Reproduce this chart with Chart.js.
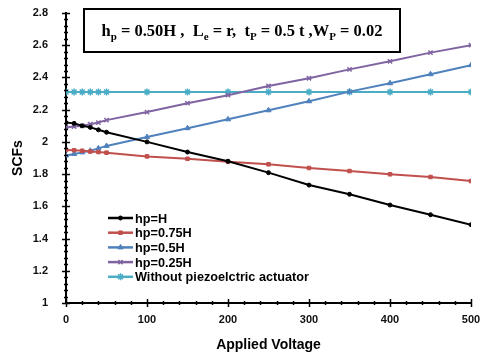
<!DOCTYPE html>
<html>
<head>
<meta charset="utf-8">
<script src="https://cdn.jsdelivr.net/npm/chart.js@4.4.1/dist/chart.umd.min.js"></script>
<style>
  html, body { margin: 0; padding: 0; background: #fff; }
  #wrap { width: 485px; height: 358px; position: relative; }
</style>
</head>
<body>
<div id="wrap"><canvas id="c"></canvas></div>
<script>
// applied voltage values (x)
const voltages = [0, 10, 20, 30, 40, 50, 100, 150, 200, 250, 300, 350, 400, 450, 500];

// SCF values
const scfFull    = [2.12, 2.115, 2.10, 2.09, 2.075, 2.06, 2.00, 1.937, 1.88, 1.809, 1.732, 1.675, 1.608, 1.548, 1.486];
const scf075     = [1.95, 1.948, 1.945, 1.94, 1.937, 1.933, 1.91, 1.895, 1.877, 1.861, 1.838, 1.819, 1.799, 1.782, 1.757];
const scf050     = [1.915, 1.925, 1.935, 1.945, 1.96, 1.975, 2.03, 2.085, 2.14, 2.196, 2.252, 2.312, 2.364, 2.42, 2.476];
const scf025     = [2.09, 2.095, 2.10, 2.11, 2.12, 2.135, 2.185, 2.24, 2.29, 2.347, 2.395, 2.45, 2.50, 2.554, 2.60];
const scfNoPiezo = [2.31, 2.31, 2.31, 2.31, 2.31, 2.31, 2.31, 2.31, 2.31, 2.31, 2.31, 2.31, 2.31, 2.31, 2.31];

const seriesNames = ['hp=H', 'hp=0.75H', 'hp=0.5H', 'hp=0.25H', 'Without piezoelctric actuator'];
const xTicks = [0, 100, 200, 300, 400, 500];
const yTicks = [1, 1.2, 1.4, 1.6, 1.8, 2, 2.2, 2.4, 2.6, 2.8];

const colors = ['#000000', '#C0504D', '#4F81BD', '#8064A2', '#4BACC6'];
const markers = ['circle', 'rect', 'triangle', 'crossRot', 'star'];
const radii = [2, 2.5, 3, 3, 3.5];
const seriesData = [scfFull, scf075, scf050, scf025, scfNoPiezo];

const datasets = seriesData.map((vals, i) => ({
  label: seriesNames[i],
  data: vals.map((v, j) => ({ x: voltages[j], y: v })),
  borderColor: colors[i],
  backgroundColor: colors[i],
  borderWidth: 2,
  pointStyle: markers[i],
  pointRadius: radii[i],
  pointBorderWidth: i >= 3 ? 1.5 : 1,
  tension: 0
}));

const font = '"Liberation Sans", Arial, sans-serif';

// tick marks crossing the axes, major + minor
const axisTicks = {
  id: 'axisTicks',
  afterDraw(chart) {
    const ctx = chart.ctx;
    const xs = chart.scales.x, ys = chart.scales.y;
    const a = chart.chartArea;
    ctx.save();
    ctx.strokeStyle = '#000';
    ctx.lineWidth = 1.5;
    ctx.beginPath();
    for (let v = 0; v <= 500; v += 20) {
      const px = Math.round(xs.getPixelForValue(v)) + 0.5;
      const major = v % 100 === 0;
      ctx.moveTo(px, a.bottom - (major ? 4 : 2));
      ctx.lineTo(px, a.bottom + (major ? 4 : 2));
    }
    for (let k = 0; k <= 45; k++) {
      const v = 1 + k * 0.04;
      const py = Math.round(ys.getPixelForValue(v)) + 0.5;
      const major = k % 5 === 0;
      ctx.moveTo(a.left - (major ? 4 : 2), py);
      ctx.lineTo(a.left + (major ? 4 : 2), py);
    }
    ctx.stroke();
    ctx.restore();
  }
};

// legend drawn inside the plot
const innerLegend = {
  id: 'innerLegend',
  afterDraw(chart) {
    const ctx = chart.ctx;
    const x0 = 108, x1 = 133, tx = 135;
    let y = 218;
    ctx.save();
    ctx.font = 'bold 12.7px ' + font;
    ctx.textBaseline = 'middle';
    chart.data.datasets.forEach((ds) => {
      ctx.strokeStyle = ds.borderColor;
      ctx.fillStyle = ds.borderColor;
      ctx.lineWidth = 2.5;
      ctx.beginPath();
      ctx.moveTo(x0, y);
      ctx.lineTo(x1, y);
      ctx.stroke();
      ctx.lineWidth = ds.pointBorderWidth;
      Chart.helpers.drawPoint(ctx, {
        pointStyle: ds.pointStyle, radius: ds.pointRadius, borderWidth: ds.pointBorderWidth, rotation: 0
      }, (x0 + x1) / 2, y);
      ctx.fillStyle = '#000';
      ctx.fillText(ds.label, tx, y + 1);
      y += 14.7;
    });
    ctx.restore();
  }
};

// parameter box at the top
const paramBox = {
  id: 'paramBox',
  afterDraw(chart) {
    const ctx = chart.ctx;
    ctx.save();
    ctx.fillStyle = '#fff';
    ctx.fillRect(84, 9, 316, 43);
    ctx.strokeStyle = '#000';
    ctx.lineWidth = 2;
    ctx.strokeRect(84, 9, 316, 43);
    const big = 'bold 16.5px "Liberation Serif", "DejaVu Serif", serif';
    const small = 'bold 11px "Liberation Serif", "DejaVu Serif", serif';
    const parts = [
      ['h', big, 0], ['p', small, 4], [' = 0.50H ,  ', big, 0],
      ['L', big, 0], ['e', small, 4], [' = r,  ', big, 0],
      ['t', big, 0], ['P', small, 4], [' = 0.5 t ,', big, 0],
      ['W', big, 0], ['P', small, 4], [' = 0.02', big, 0]
    ];
    ctx.fillStyle = '#000';
    ctx.textBaseline = 'alphabetic';
    let total = 0;
    parts.forEach(p => { ctx.font = p[1]; total += ctx.measureText(p[0]).width; });
    let x = 242 - total / 2;
    parts.forEach(p => {
      ctx.font = p[1];
      ctx.fillText(p[0], x, 36 + p[2]);
      x += ctx.measureText(p[0]).width;
    });
    ctx.restore();
  }
};

new Chart(document.getElementById('c'), {
  type: 'line',
  data: { datasets },
  options: {
    responsive: true,
    maintainAspectRatio: false,
    animation: false,
    layout: { padding: { left: 0, right: 14, top: 13, bottom: 0 } },
    plugins: { legend: { display: false }, tooltip: { enabled: false } },
    scales: {
      x: {
        type: 'linear',
        min: 0, max: 500,
        afterBuildTicks: s => { s.ticks = xTicks.map(v => ({ value: v })); },
        afterFit: s => { s.height = 55; s.paddingLeft = 0; s.paddingRight = 0; },
        grid: { display: false },
        border: { display: true, color: '#000', width: 2 },
        ticks: { color: '#111', padding: 2, font: { family: font, size: 11, weight: 'bold' } },
        title: { display: true, text: 'Applied Voltage', color: '#000', padding: { top: 10, bottom: 4 },
          font: { family: font, size: 14, weight: 'bold' } }
      },
      y: {
        min: 1, max: 2.8,
        afterBuildTicks: s => { s.ticks = yTicks.map(v => ({ value: v })); },
        afterFit: s => { s.width = 66; s.paddingTop = 0; s.paddingBottom = 0; },
        grid: { display: false },
        border: { display: true, color: '#000', width: 2 },
        ticks: { color: '#111', padding: 10, font: { family: font, size: 11, weight: 'bold' },
          callback: v => String(Math.round(v * 10) / 10) },
        title: { display: true, text: 'SCFs', color: '#000', padding: { top: 10, bottom: 0 },
          font: { family: font, size: 14, weight: 'bold' } }
      }
    }
  },
  plugins: [axisTicks, innerLegend, paramBox]
});
</script>
</body>
</html>
